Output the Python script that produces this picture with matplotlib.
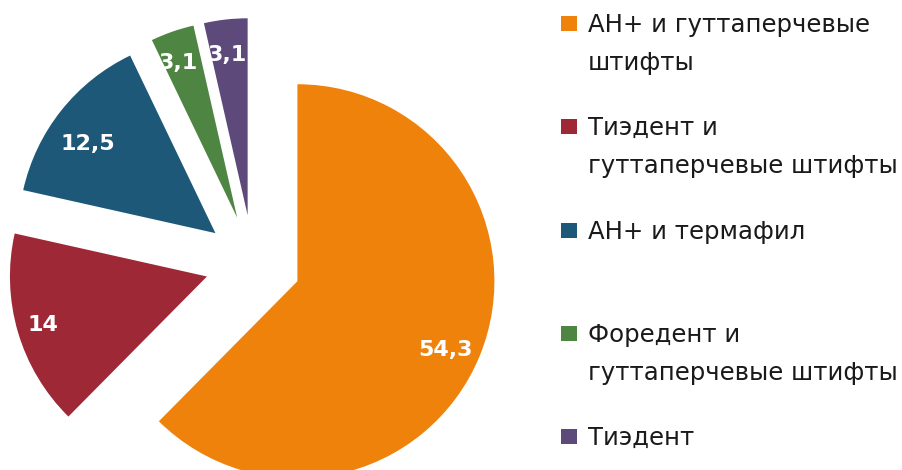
import math
import matplotlib
matplotlib.use("Agg")
import matplotlib.pyplot as plt
from matplotlib.patches import Rectangle

plt.rcParams['font.family'] = ['DejaVu Sans']

categories = [
    "АН+ и гуттаперчевые\nштифты",
    "Тиэдент и\nгуттаперчевые штифты",
    "АН+ и термафил",
    "Форедент и\nгуттаперчевые штифты",
    "Тиэдент",
]
values = [54.3, 14, 12.5, 3.1, 3.1]
colors = ["#EF820B", "#9E2836", "#1E5879", "#4E8542", "#5E4A7A"]

# label placement tweaks (fraction of radius, angle offset in degrees)
label_dist = [0.83, 0.87, 0.79, 0.84, 0.82]
label_dang = [-2.5, 0.0, 3.4, 1.5, 0.7]

W, H = 903, 470
fig = plt.figure(figsize=(W / 100, H / 100), dpi=100)
ax = fig.add_axes([0, 0, 1, 1])


def fmt_value(v):
    s = f"{v:.1f}".replace(".", ",")
    if s.endswith(",0"):
        s = s[:-2]
    return s


R = 197
wedges, texts = ax.pie(
    values,
    colors=colors,
    startangle=90,
    counterclock=False,
    center=(253, H - 263),
    radius=R,
    explode=[48] * len(values),
    frame=True,
    wedgeprops=dict(linewidth=0),
)

for w, v, d, da in zip(wedges, values, label_dist, label_dang):
    cx, cy = w.center
    mid = math.radians((w.theta1 + w.theta2) / 2 + da)
    ax.text(cx + d * R * math.cos(mid), cy + d * R * math.sin(mid), fmt_value(v),
            color="white", fontsize=16, fontweight="bold", ha="center", va="center",
            clip_path=w, clip_on=True)

ax.set_xlim(0, W)
ax.set_ylim(0, H)
ax.set_aspect("auto")
ax.axis("off")

# legend
first_baseline = 32
step = 103.3
line_gap = 38
for i, (lab, col) in enumerate(zip(categories, colors)):
    b = first_baseline + i * step
    ax.add_patch(Rectangle((561, H - (b - 1)), 16, 15, facecolor=col, edgecolor="none"))
    for j, line in enumerate(lab.split("\n")):
        ax.text(588, H - (b + j * line_gap), line, fontsize=17.6, color="#1a1a1a",
                va="baseline", ha="left")

fig.savefig("out.png", dpi=100)
